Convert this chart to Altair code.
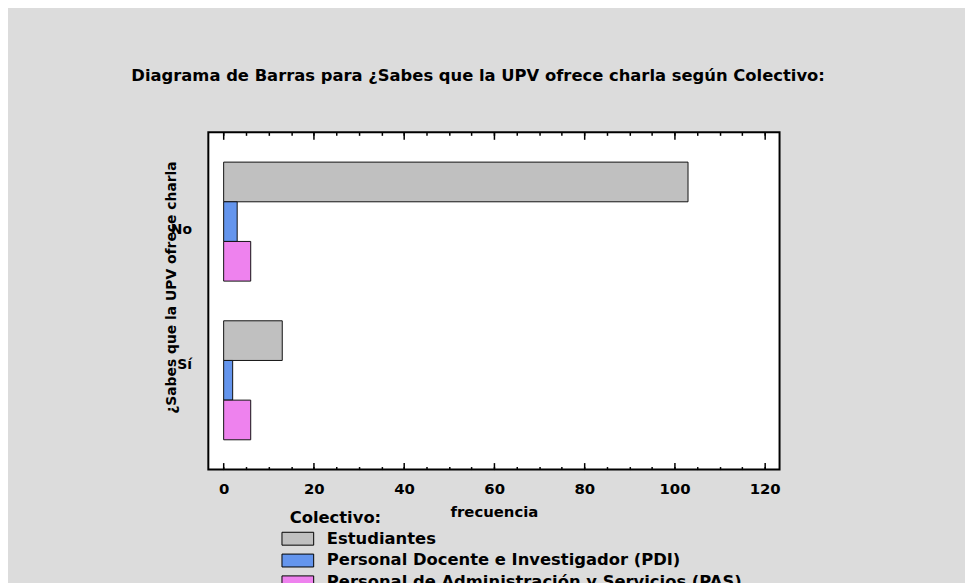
import altair as alt
import pandas as pd

# ---- data ----
respuestas = ["No", "No", "No", "Sí", "Sí", "Sí"]
colectivos = [
    "Estudiantes",
    "Personal Docente e Investigador (PDI)",
    "Personal de Administración y Servicios (PAS)",
    "Estudiantes",
    "Personal Docente e Investigador (PDI)",
    "Personal de Administración y Servicios (PAS)",
]
frecuencias = [103, 3, 6, 13, 2, 6]

orden_respuestas = ["No", "Sí"]
orden_colectivos = [
    "Estudiantes",
    "Personal Docente e Investigador (PDI)",
    "Personal de Administración y Servicios (PAS)",
]
colores = ["#c0c0c0", "#6495ed", "#ee82ee"]

ticks_mayores = [0, 20, 40, 60, 80, 100, 120]
ticks_menores = [0, 5, 10, 15, 20, 25, 30, 35, 40, 45, 50, 55, 60,
                 65, 70, 75, 80, 85, 90, 95, 100, 105, 110, 115, 120]

titulo = "Diagrama de Barras para ¿Sabes que la UPV ofrece charla según Colectivo:"
titulo_y = "¿Sabes que la UPV ofrece charla"
titulo_x = "frecuencia"
titulo_leyenda = "Colectivo:"

FONT = "DejaVu Sans"

df = pd.DataFrame({
    "respuesta": respuestas,
    "colectivo": colectivos,
    "frecuencia": frecuencias,
})

xscale = alt.Scale(domain=[-3.4, 123.3], nice=False)

bars = alt.Chart(df).mark_bar(stroke="#111111", strokeWidth=1).encode(
    x=alt.X(
        "frecuencia:Q",
        scale=xscale,
        axis=alt.Axis(
            orient="bottom", values=ticks_mayores, tickSize=7, offset=-7,
            domain=False, grid=False, tickColor="black", tickWidth=1.5,
            labelFont=FONT, labelFontSize=15, labelFontWeight="bold",
            labelColor="black", labelPadding=12, labelFlush=False,
            title=titulo_x, titleFont=FONT, titleFontSize=15,
            titleFontWeight="bold", titleColor="black", titlePadding=8,
        ),
    ),
    y=alt.Y(
        "respuesta:N",
        sort=orden_respuestas,
        scale=alt.Scale(paddingInner=0.25, paddingOuter=0.1875),
        axis=alt.Axis(
            orient="left", ticks=False, domain=False, grid=False,
            labelFont=FONT, labelFontSize=14, labelFontWeight="bold",
            labelColor="black", labelPadding=17,
            labelOffset={"condition": {"test": "datum.value == 'No'", "value": 8}, "value": -15},
            title=titulo_y, titleFont=FONT, titleFontSize=14,
            titleFontWeight="bold", titleColor="black",
            titleAngle=270, titleX=-37.5, titleY=156,
            titleAlign="center", titleBaseline="middle",
        ),
    ),
    yOffset=alt.YOffset(
        "colectivo:N", sort=orden_colectivos,
        scale=alt.Scale(paddingInner=0, paddingOuter=0),
    ),
    color=alt.Color(
        "colectivo:N",
        sort=orden_colectivos,
        scale=alt.Scale(domain=orden_colectivos, range=colores),
        legend=alt.Legend(
            orient="none", legendX=82, legendY=381, padding=0,
            title=titulo_leyenda, titleFont=FONT, titleFontSize=16.5,
            titleFontWeight="bold", titleColor="black", titleAnchor="start",
            titlePadding=4,
            labelFont=FONT, labelFontSize=16.5, labelFontWeight="bold",
            labelColor="black", labelOffset=21, labelLimit=0,
            symbolType="M-2.46,-1H2.46V1H-2.46Z", symbolSize=169,
            symbolStrokeColor="black", symbolStrokeWidth=1, symbolOpacity=1,
            rowPadding=4,
        ),
    ),
)


def capa_ticks(orient, valores, largo):
    return alt.Chart(df).mark_point(opacity=0).encode(
        x=alt.X(
            "frecuencia:Q",
            scale=xscale,
            axis=alt.Axis(
                orient=orient, values=valores, tickSize=largo, offset=-largo,
                domain=False, grid=False, labels=False, title=None,
                tickColor="black", tickWidth=1.5,
            ),
        )
    )


chart = alt.layer(
    bars,
    capa_ticks("bottom", ticks_menores, 3),
    capa_ticks("top", ticks_mayores, 7),
    capa_ticks("top", ticks_menores, 3),
).resolve_axis(x="independent").properties(
    width=576,
    height=340,
    background="#dcdcdc",
    padding={"left": 202, "top": 123, "right": 187, "bottom": 112},
    autosize=alt.AutoSizeParams(type="none"),
    title=alt.Title(
        text=titulo, font=FONT, fontSize=16.5, fontWeight="bold", color="black",
        anchor="middle", dx=-16, offset=35, baseline="alphabetic",
    ),
).configure_view(stroke="black", strokeWidth=2, fill="white")

chart.save("out.html", embed_options={"renderer": "svg", "actions": False})
